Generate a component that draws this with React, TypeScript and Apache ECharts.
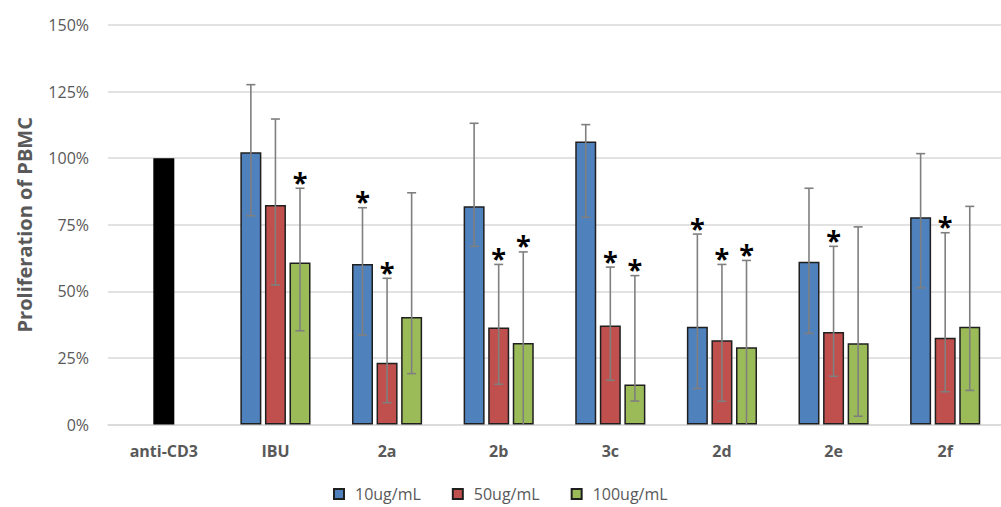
import React, { useEffect, useRef } from "react";
import * as echarts from "echarts";

const categories = ["anti-CD3", "IBU", "2a", "2b", "3c", "2d", "2e", "2f"];
const seriesNames = ["10ug/mL", "50ug/mL", "100ug/mL"];

const v10 = [null, 102.2, 60.3, 81.9, 106.3, 36.7, 61.1, 77.8];
const v50 = [100, 82.4, 23.2, 36.4, 37.2, 31.6, 34.7, 32.6];
const v100 = [null, 60.8, 40.4, 30.6, 15.0, 29.0, 30.5, 36.7];

const hi10 = [null, 127.6, 81.4, 113.1, 112.6, 71.5, 88.7, 101.7];
const lo10 = [null, 78.4, 33.6, 66.9, 77.8, 13.5, 34.2, 51.3];
const hi50 = [null, 114.7, 54.9, 60.1, 59.1, 60.1, 66.9, 72.0];
const lo50 = [null, 52.4, 8.2, 15.1, 16.6, 8.7, 18.1, 12.3];
const hi100 = [null, 88.7, 87.0, 64.8, 55.9, 61.6, 74.2, 81.9];
const lo100 = [null, 35.2, 19.1, -4.0, 8.8, -3.0, 3.1, 12.8];

const star10 = [0, 0, 1, 0, 0, 1, 0, 0];
const star50 = [0, 0, 1, 1, 1, 1, 1, 1];
const star100 = [0, 1, 0, 1, 1, 1, 0, 0];

const yTicks = [0, 25, 50, 75, 100, 125, 150];

const COLORS = ["#4F81BD", "#C0504D", "#9BBB59"];
const BAR_W = 21;
const BAR_GAP = 0.17;
const TEXT = "#595959";
const FONT = "'Open Sans', 'Noto Sans', sans-serif";

export default function App() {
  const ref = useRef<HTMLDivElement>(null);

  useEffect(() => {
    document.body.style.margin = "0";
    if (!ref.current) return;
    const chart = echarts.init(ref.current, null, { renderer: "svg" });

    const values = [v10, v50, v100];
    const his = [hi10, hi50, hi100];
    const los = [lo10, lo50, lo100];
    const stars = [star10, star50, star100];
    const step = BAR_W * (1 + BAR_GAP);

    const barSeries = values.map((vals, si) => ({
      name: seriesNames[si],
      type: "bar",
      barWidth: BAR_W,
      barGap: `${BAR_GAP * 100}%`,
      itemStyle: { color: COLORS[si], borderColor: "#1f1f1f", borderWidth: 1.5 },
      data: vals.map((v, ci) =>
        v === null
          ? null
          : si === 1 && ci === 0
          ? { value: v, itemStyle: { color: "#000000", borderColor: "#000000" } }
          : v
      ),
      z: 2,
    }));

    const errSeries = values.map((vals, si) => {
      const data: any[] = [];
      vals.forEach((v, ci) => {
        if (v === null || his[si][ci] === null) return;
        data.push([ci, los[si][ci], his[si][ci], stars[si][ci]]);
      });
      const offset = (si - 1) * step;
      return {
        name: "err" + si,
        type: "custom",
        z: 5,
        silent: true,
        data,
        renderItem: (params: any, api: any) => {
          const ci = api.value(0);
          const lo = api.value(1);
          const hi = api.value(2);
          const st = api.value(3);
          const pHi = api.coord([ci, hi]);
          const pLo = api.coord([ci, Math.max(lo, 0)]);
          const x = pHi[0] + offset;
          const style = { stroke: "#7F7F7F", lineWidth: 1.6 };
          const children: any[] = [
            { type: "line", shape: { x1: x, y1: pHi[1], x2: x, y2: pLo[1] }, style },
            { type: "line", shape: { x1: x - 4.5, y1: pHi[1], x2: x + 4.5, y2: pHi[1] }, style },
          ];
          if (lo >= 0) {
            children.push({
              type: "line",
              shape: { x1: x - 4.5, y1: pLo[1], x2: x + 4.5, y2: pLo[1] },
              style,
            });
          }
          if (st) {
            children.push({
              type: "text",
              x: x,
              y: pHi[1] - 7,
              style: {
                text: "*",
                fill: "#000",
                font: `bold 27px ${FONT}`,
                align: "center",
                verticalAlign: "middle",
              },
            });
          }
          return { type: "group", children };
        },
      };
    });

    chart.setOption({
      animation: false,
      textStyle: { fontFamily: FONT },
      grid: { left: 108, top: 25, width: 905, height: 399.5 },
      legend: {
        data: seriesNames,
        left: 333,
        top: 483,
        padding: 0,
        itemWidth: 10,
        itemHeight: 10,
        itemGap: 31,
        icon: "rect",
        textStyle: { color: TEXT, fontSize: 16, fontFamily: FONT, padding: [0, 0, 0, 6], lineHeight: 22 },
      },
      xAxis: {
        type: "category",
        data: categories,
        axisTick: { show: false },
        axisLine: { lineStyle: { color: "#D9D9D9", width: 1.5 } },
        axisLabel: {
          color: TEXT,
          fontSize: 16,
          fontWeight: "bold",
          fontFamily: FONT,
          margin: 18,
          interval: 0,
        },
      },
      yAxis: {
        type: "value",
        min: yTicks[0],
        max: yTicks[yTicks.length - 1],
        interval: 25,
        name: "Proliferation of PBMC",
        nameLocation: "middle",
        nameRotate: 90,
        nameGap: 74,
        nameTextStyle: { color: TEXT, fontSize: 20, fontWeight: "bold", fontFamily: FONT },
        axisLine: { show: false },
        axisTick: { show: false },
        axisLabel: { color: TEXT, fontSize: 16, fontFamily: FONT, margin: 19, formatter: "{value}%" },
        splitLine: { lineStyle: { color: "#D9D9D9", width: 1.5 } },
      },
      series: [...barSeries, ...errSeries],
    });

    return () => chart.dispose();
  }, []);

  return <div ref={ref} style={{ width: 1001, height: 507 }} />;
}
